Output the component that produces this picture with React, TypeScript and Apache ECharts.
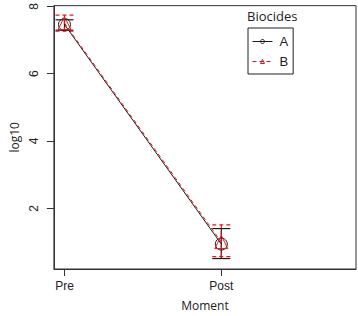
import React, { useEffect, useRef } from "react";
import * as echarts from "echarts";

const categories = ["Pre", "Post"];
const catPositions = [1, 2];
const meanA = [7.46, 0.94];
const lowA = [7.29, 0.51];
const highA = [7.6, 1.4];
const meanB = [7.5, 1.0];
const lowB = [7.26, 0.57];
const highB = [7.74, 1.51];
const yTicks = [2, 4, 6, 8];

export default function App() {
  const ref = useRef<HTMLDivElement>(null);
  useEffect(() => {
    document.body.style.margin = "0";
    const chart = echarts.init(ref.current!, undefined, { renderer: "svg" });
    const black = "#1a1a1a";
    const red = "#e8141c";
    const errSeries = (name: string, low: number[], high: number[], color: string, dashed: boolean) => ({
      type: "custom",
      name,
      silent: true,
      z: 3,
      data: catPositions.map((x, i) => [x, low[i], high[i]]),
      renderItem: (params: any, api: any) => {
        const x = api.value(0);
        const lo = api.coord([x, api.value(1)]);
        const hi = api.coord([x, api.value(2)]);
        const w = 9;
        const style = { stroke: color, lineWidth: 1.2, lineDash: dashed ? [4, 3] : undefined };
        return {
          type: "group",
          children: [
            { type: "line", shape: { x1: lo[0], y1: lo[1], x2: hi[0], y2: hi[1] }, style },
            { type: "line", shape: { x1: lo[0] - w, y1: lo[1], x2: lo[0] + w, y2: lo[1] }, style },
            { type: "line", shape: { x1: hi[0] - w, y1: hi[1], x2: hi[0] + w, y2: hi[1] }, style },
          ],
        };
      },
    });
    chart.setOption({
      animation: false,
      grid: { left: 42, top: 2, right: 2, bottom: 41, show: true, borderColor: "#333", borderWidth: 1 },
      xAxis: {
        type: "value",
        min: 0.9325,
        max: 2.859,
        name: "Moment",
        nameLocation: "middle",
        nameGap: 30,
        nameTextStyle: { fontFamily: "Open Sans", fontSize: 12, color: "#222" },
        splitLine: { show: false },
        axisLine: { show: true, lineStyle: { color: "#333" } },
        axisTick: { show: true, length: 7, customValues: catPositions, lineStyle: { color: "#333" } },
        axisLabel: {
          customValues: catPositions,
          formatter: (v: number) => categories[catPositions.indexOf(Math.round(v))] ?? "",
          fontFamily: "Liberation Sans",
          fontSize: 12,
          color: "#222",
          margin: 11,
        },
      },
      yAxis: {
        type: "value",
        min: 0.2,
        max: 8.02,
        name: "log10",
        nameLocation: "middle",
        nameGap: 32,
        nameTextStyle: { fontFamily: "Open Sans", fontSize: 12, color: "#222" },
        splitLine: { show: false },
        axisLine: { show: true, lineStyle: { color: "#333" } },
        axisTick: { show: true, length: 7, customValues: yTicks, lineStyle: { color: "#333" } },
        axisLabel: {
          customValues: yTicks,
          rotate: 90,
          fontFamily: "Liberation Sans",
          fontSize: 12,
          color: "#222",
          margin: 14,
        },
      },
      legend: {
        data: ["A", "B"],
        orient: "vertical",
        left: 248,
        top: 28,
        borderColor: "#222",
        borderWidth: 1,
        borderRadius: 0,
        padding: [7, 5, 6, 4],
        itemWidth: 20,
        itemHeight: 5,
        itemGap: 7,
        itemStyle: { borderWidth: 1 },
        lineStyle: { width: 1 },
        textStyle: { fontFamily: "Liberation Sans", fontSize: 13, color: "#222", padding: [0, 0, 0, 2] },
      },
      graphic: [
        {
          type: "text",
          left: 247,
          top: 9,
          style: { text: "Biocides", fontFamily: "Open Sans", fontSize: 13, fill: "#222" },
        },
      ],
      series: [
        errSeries("errA", lowA, highA, black, false),
        errSeries("errB", lowB, highB, red, true),
        {
          type: "line",
          name: "A",
          data: catPositions.map((x, i) => [x, meanA[i]]),
          symbol: "circle",
          symbolSize: 12,
          lineStyle: { color: black, width: 1 },
          itemStyle: { color: "rgba(255,255,255,0)", borderColor: black, borderWidth: 1 },
          z: 4,
        },
        {
          type: "line",
          name: "B",
          data: catPositions.map((x, i) => [x, meanB[i]]),
          symbol: "triangle",
          symbolSize: 13,
          lineStyle: { color: red, width: 1, type: [4, 3] },
          itemStyle: { color: "rgba(255,255,255,0)", borderColor: red, borderWidth: 1 },
          z: 4,
        },
      ],
    });
    return () => chart.dispose();
  }, []);
  return <div ref={ref} style={{ width: 358, height: 316 }} />;
}
